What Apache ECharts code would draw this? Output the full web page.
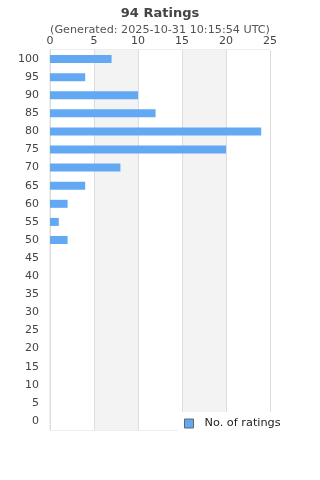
<!DOCTYPE html>
<html><head><meta charset="utf-8">
<script src="https://cdn.jsdelivr.net/npm/echarts@6/dist/echarts.min.js"></script>
<style>html,body{margin:0;padding:0;background:#fff}#c{width:320px;height:480px}</style>
</head><body><div id="c"></div>
<script>
const categories = ['0','5','10','15','20','25','30','35','40','45','50','55','60','65','70','75','80','85','90','95','100'];
const ratingCounts = [0,0,0,0,0,0,0,0,0,0,2,1,2,4,8,20,24,12,10,4,7];
const xTicks = [0,5,10,15,20,25];
const chart = echarts.init(document.getElementById('c'), null, {renderer:'canvas'});
const font = 'DejaVu Sans';
chart.setOption({
  animation:false,
  textStyle:{fontFamily:font},
  title:{text:'94 Ratings', subtext:'(Generated: 2025-10-31 10:15:54 UTC)', left:'center', top:2, itemGap:5,
    textStyle:{fontSize:13, fontWeight:'bold', color:'#444', fontFamily:font},
    subtextStyle:{fontSize:11.2, color:'#555', fontFamily:font}},
  grid:{left:50, right:50, top:50, bottom:50, show:true, borderColor:'#ddd', borderWidth:1},
  xAxis:{type:'value', position:'top', min:xTicks[0], max:xTicks[xTicks.length-1], interval:5,
    axisLine:{show:false}, axisTick:{show:false},
    axisLabel:{color:'#444', fontSize:11, margin:3, fontFamily:font},
    splitLine:{show:true, lineStyle:{color:'#ddd'}},
    splitArea:{show:true, areaStyle:{color:['#ffffff','#f3f3f3']}}},
  yAxis:{type:'category', data:categories,
    axisLine:{show:true, lineStyle:{color:'#ddd'}}, axisTick:{show:false},
    axisLabel:{color:'#444', fontSize:11, margin:11, fontFamily:font}},
  legend:{left:178, top:412, orient:'horizontal', backgroundColor:'#fff', padding:[6,4,6,6],
    itemWidth:9, itemHeight:9, itemGap:10,
    textStyle:{color:'#222', fontSize:11.3, fontFamily:font, padding:[0,0,0,6]},
    data:[{name:'No. of ratings', icon:'rect', itemStyle:{color:'#62a8f3', borderColor:'#666', borderWidth:1}}]},
  series:[{name:'No. of ratings', type:'bar', data:ratingCounts, barWidth:8,
    itemStyle:{color:'#62a8f3'}}]
});
</script></body></html>
